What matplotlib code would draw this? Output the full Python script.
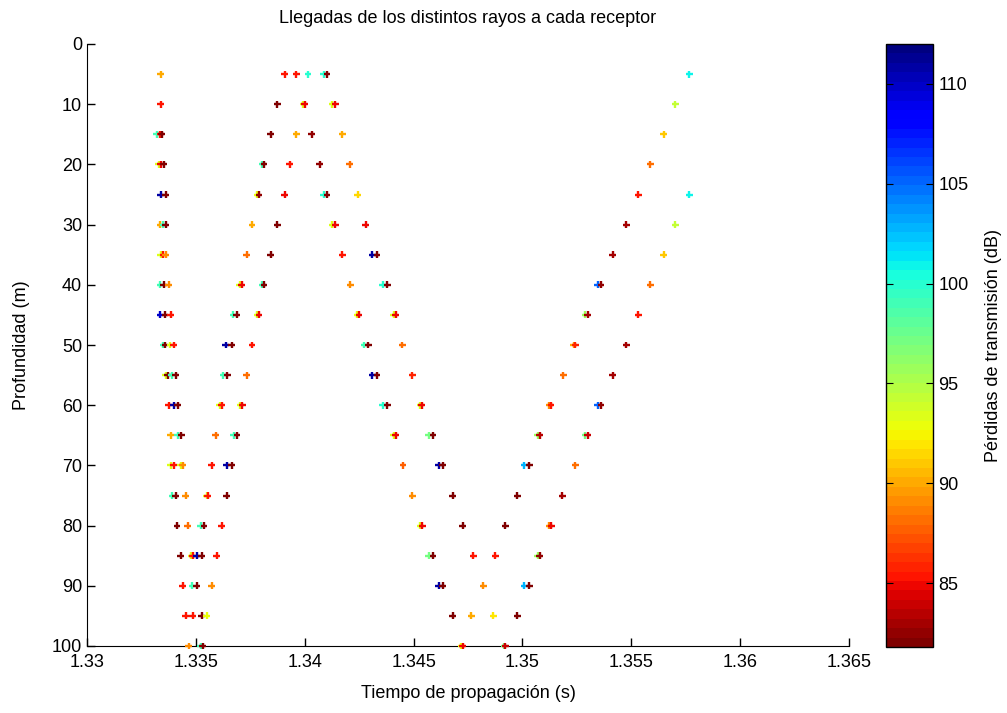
import numpy as np
import matplotlib.pyplot as plt
from matplotlib.ticker import FormatStrFormatter

plt.rcParams['font.family'] = ['Liberation Sans Narrow', 'Liberation Sans', 'DejaVu Sans']

######### Arrival data: one row per receiver depth ############
depths = [5, 10, 15, 20, 25, 30, 35, 40, 45, 50, 55, 60, 65, 70, 75, 80, 85, 90, 95, 100]

# propagation time of each ray (s)
arrival_times = [
    [1.33338, 1.33908, 1.33962, 1.34015, 1.34087, 1.34102, 1.35766],
    [1.33338, 1.33875, 1.33992, 1.34000, 1.34125, 1.34141, 1.35702],
    [1.33320, 1.33337, 1.33344, 1.33844, 1.33962, 1.34032, 1.34173, 1.35648],
    [1.33330, 1.33339, 1.33353, 1.33806, 1.33813, 1.33931, 1.34069, 1.34206, 1.35587],
    [1.33338, 1.33361, 1.33781, 1.33790, 1.33908, 1.34087, 1.34102, 1.34244, 1.35532, 1.35766],
    [1.33335, 1.33349, 1.33361, 1.33758, 1.33875, 1.34125, 1.34141, 1.34280, 1.35478, 1.35702],
    [1.33338, 1.33351, 1.33362, 1.33733, 1.33844, 1.34173, 1.34311, 1.34332, 1.35414, 1.35648],
    [1.33335, 1.33353, 1.33376, 1.33702, 1.33710, 1.33806, 1.33813, 1.34210, 1.34359, 1.34379,
     1.35345, 1.35361, 1.35587],
    [1.33335, 1.33358, 1.33384, 1.33671, 1.33687, 1.33781, 1.33790, 1.34240, 1.34249, 1.34408,
     1.34417, 1.35289, 1.35300, 1.35532],
    [1.33349, 1.33358, 1.33381, 1.33399, 1.33638, 1.33664, 1.33758, 1.34272, 1.34292, 1.34448,
     1.35235, 1.35243, 1.35478],
    [1.33361, 1.33370, 1.33389, 1.33407, 1.33625, 1.33644, 1.33733, 1.34311, 1.34332, 1.34494,
     1.35188, 1.35414],
    [1.33376, 1.33399, 1.33417, 1.33610, 1.33618, 1.33705, 1.33714, 1.34359, 1.34379, 1.34531,
     1.34538, 1.35124, 1.35131, 1.35345, 1.35361],
    [1.33384, 1.33416, 1.33434, 1.33592, 1.33674, 1.33689, 1.34408, 1.34417, 1.34570, 1.34589,
     1.35070, 1.35079, 1.35289, 1.35300],
    [1.33384, 1.33399, 1.33430, 1.33439, 1.33572, 1.33642, 1.33664, 1.34451, 1.34616, 1.34634,
     1.35009, 1.35032, 1.35243],
    [1.33390, 1.33407, 1.33454, 1.33549, 1.33555, 1.33642, 1.34494, 1.34680, 1.34976, 1.35183],
    [1.33413, 1.33463, 1.33523, 1.33537, 1.33618, 1.34531, 1.34540, 1.34726, 1.34922, 1.35124,
     1.35133],
    [1.33430, 1.33479, 1.33486, 1.33503, 1.33526, 1.33595, 1.34570, 1.34589, 1.34775, 1.34876,
     1.35070, 1.35079],
    [1.33439, 1.33482, 1.33503, 1.33572, 1.34616, 1.34634, 1.34821, 1.35009, 1.35032],
    [1.33454, 1.33485, 1.33526, 1.33549, 1.34680, 1.34765, 1.34867, 1.34976],
    [1.33468, 1.33523, 1.33531, 1.34720, 1.34726, 1.34916, 1.34922],
]

# transmission loss of each ray (dB)
losses = [
    [90, 85.5, 85.5, 100, 100, 82, 101],
    [85.5, 82, 93.5, 85, 93.5, 85, 94.5],
    [99, 85.5, 82, 82, 90, 82.5, 90, 91],
    [93.5, 85, 82, 99, 82, 85.5, 82.5, 88, 88],
    [111, 82, 93, 82.5, 85, 100, 82, 91.5, 85.5, 101],
    [90, 99, 82, 90, 82, 93.5, 85, 85, 83, 94.5],
    [93.5, 85.5, 89, 88, 82, 85.5, 111, 82, 83, 91],
    [99, 82, 89, 93.5, 85, 99, 82, 89, 100, 82, 105, 82.5, 88],
    [110, 82, 85.5, 99, 82, 93.5, 85, 93, 85, 93.5, 85, 95.5, 83, 85.5],
    [99, 82, 93.5, 85.5, 111, 82, 85.5, 99, 82, 88, 90, 86, 83],
    [93.5, 82, 99, 82, 99, 82, 88, 111, 82, 86, 88, 83],
    [85.5, 111, 82, 93.5, 85.5, 93.5, 85, 100, 82, 93.5, 85, 89, 85.5, 105, 82.5],
    [90, 99, 82, 88, 99, 82, 93.5, 85, 97, 82, 95.5, 83.5, 97, 84],
    [93.5, 85.5, 93.5, 89, 85.5, 111, 82, 87.5, 111, 82, 103, 82, 88],
    [99, 82, 89, 93.5, 85.5, 82, 89, 82, 82, 83],
    [82, 88, 99, 82, 85.5, 93.5, 85, 82, 82, 89, 85],
    [82, 93.5, 85.5, 111, 82, 85.5, 97, 82, 85.5, 85.5, 95.5, 82.5],
    [85.5, 99, 82, 89, 111, 82, 89, 103, 82],
    [85.5, 85.5, 82, 93, 82, 90, 92, 82],
    [89, 99, 82, 93, 85, 97, 84],
]

loss_min, loss_max = 81.8, 112.0
##################################################

t = np.concatenate([np.array(r) for r in arrival_times])
z = np.concatenate([np.full(len(r), d) for r, d in zip(arrival_times, depths)])
tl = np.concatenate([np.array(r) for r in losses])

fig = plt.figure(figsize=(10.07, 7.13), dpi=100)
ax = fig.add_axes([87/1007, 1-646/713, 762/1007, 602/713])
cax = fig.add_axes([886/1007, 1-647/713, 47/1007, 603/713])

cmap = plt.get_cmap('jet_r', 64)
sc = ax.scatter(t, z, c=tl, cmap=cmap, vmin=loss_min, vmax=loss_max,
                marker='+', s=24, linewidths=1.7, clip_on=False, zorder=3)

ax.set_xlim(1.33, 1.365)
ax.set_ylim(100, 0)
ax.set_xticks(np.arange(1.33, 1.3651, 0.005))
ax.set_yticks(np.arange(0, 101, 10))
ax.xaxis.set_major_formatter(FormatStrFormatter('%g'))
ax.spines['top'].set_visible(False)
ax.spines['right'].set_visible(False)
ax.tick_params(direction='in', length=6, labelsize=13, width=1)
ax.tick_params(axis='x', pad=6)
ax.set_xlabel('Tiempo de propagación (s)', fontsize=13, labelpad=10)
ax.set_ylabel('Profundidad (m)', fontsize=13, labelpad=16)
ax.set_title('Llegadas de los distintos rayos a cada receptor', fontsize=13, pad=15)

cb = fig.colorbar(sc, cax=cax)
cb.set_ticks([85, 90, 95, 100, 105, 110])
cb.outline.set_linewidth(1)
cax.tick_params(direction='in', length=5, left=True, right=True, labelsize=13, pad=4)
cb.set_label('Pérdidas de transmisión (dB)', fontsize=13, labelpad=12)

fig.savefig('out.png', dpi=100)
